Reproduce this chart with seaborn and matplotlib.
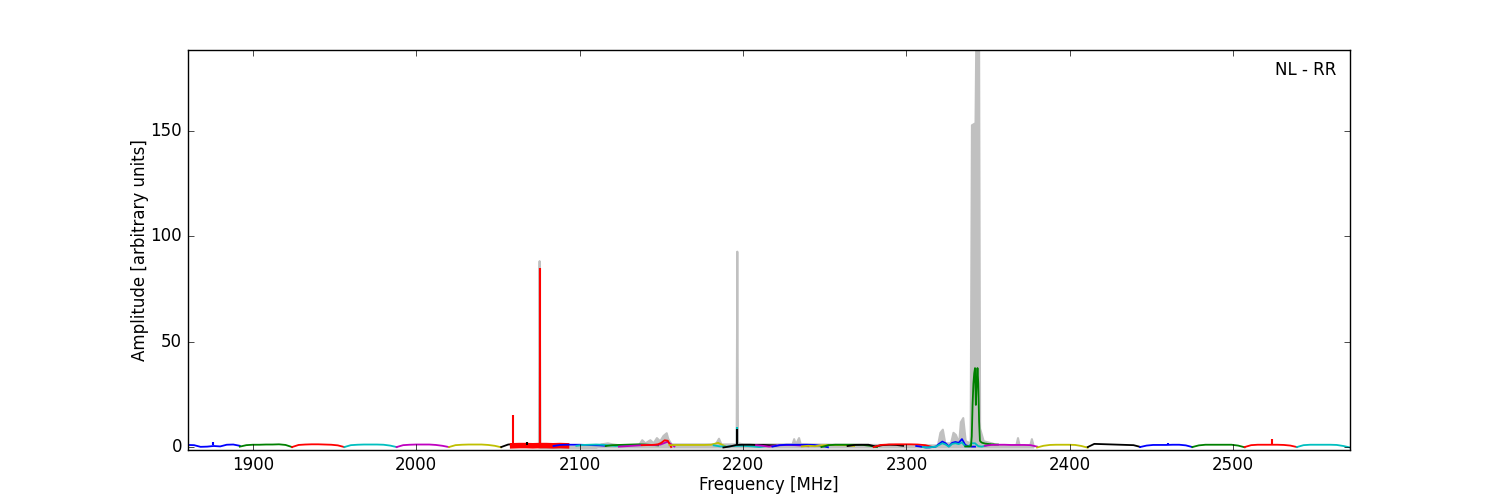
import numpy as np
import pandas as pd
import seaborn as sns
import matplotlib.pyplot as plt

plt.style.use('classic')
plt.rcParams['figure.facecolor'] = 'white'

# sub-band spectra: edges [MHz], colour, amplitudes sampled evenly across the band
band_lo = [1860, 1892, 1924, 1956, 1988, 2020, 2052, 2059, 2084, 2098, 2116, 2124,
           2138, 2155, 2182, 2188, 2208, 2218, 2236, 2248, 2264, 2280, 2306, 2310,
           2336, 2348, 2380, 2411, 2443, 2475, 2507, 2539]
band_hi = [1892, 1924, 1956, 1988, 2020, 2052, 2086, 2092, 2116, 2130, 2148, 2158,
           2156, 2189, 2214, 2220, 2240, 2252, 2268, 2282, 2298, 2316, 2342, 2350,
           2356, 2380, 2411, 2443, 2475, 2507, 2539, 2571.5]
band_color = ['b', 'g', 'r', 'c', 'm', 'y', 'k', 'r', 'b', 'c', 'g', 'm',
              'r', 'y', 'c', 'k', 'm', 'b', 'y', 'g', 'k', 'r', 'b', 'c',
              'g', 'm', 'y', 'k', 'b', 'g', 'r', 'c']
band_amp = [
    [1.0, 0.9, 0.1, 0.2, 0.5, 0.3, 1.1, 1.2, 0.6],
    [0.2, 0.9, 1.1, 1.1, 1.2, 1.2, 1.3, 1.0, 0.0],
    [0.0, 1.0, 1.2, 1.3, 1.3, 1.2, 1.1, 0.8, 0.0],
    [0.0, 0.9, 1.1, 1.2, 1.2, 1.2, 1.1, 0.7, 0.0],
    [0.0, 0.9, 1.1, 1.2, 1.2, 1.2, 1.0, 0.6, 0.0],
    [0.0, 0.9, 1.1, 1.2, 1.2, 1.2, 1.0, 0.6, -0.1],
    [0.0, 1.2, 1.4, 1.2, 1.2, 1.2, 1.2, 1.0, 1.0],
    [0.6, 0.7, 0.7, 0.6, 0.7, 0.7, 0.6, 0.7, 0.6],
    [0.5, 1.0, 1.1, 1.1, 1.1, 1.0, 0.9, 0.8, 0.6],
    [0.6, 1.0, 1.1, 1.2, 1.1, 0.8, 0.5, 0.7, 0.9],
    [0.5, 0.9, 1.0, 1.1, 1.2, 1.3, 1.2, 1.0, 0.8],
    [0.2, 0.4, 0.6, 0.8, 1.0, 0.9, 1.2, 2.5, 0.3],
    [0.9, 0.9, 1.0, 1.0, 1.1, 1.3, 2.0, 3.2, 3.0, 0.0],
    [0.9, 1.0, 1.0, 1.0, 1.0, 1.0, 1.1, 2.0, 0.4],
    [0.8, 0.3, 0.2, 0.5, 0.6, 0.5, 0.3, 0.0, 0.4],
    [-0.2, 0.3, 1.0, 1.1, 1.1, 1.0, 1.0, 0.9, 0.8],
    [0.9, 0.6, 0.2, 0.7, 0.9, 1.0, 0.9, 0.7, 0.4],
    [0.2, 0.9, 1.1, 1.1, 1.1, 1.1, 1.0, 0.6, -0.1],
    [0.3, 0.6, 0.4, 0.8, 1.0, 1.0, 1.0, 0.8, 0.5],
    [0.0, 0.9, 1.1, 1.1, 1.1, 1.1, 1.0, 0.6, 0.0],
    [0.5, 1.0, 1.1, 1.1, 0.3, 0.9, 1.1, 1.0, 0.6],
    [0.0, 1.0, 1.2, 1.3, 1.3, 1.3, 1.2, 0.9, 0.0],
    [0.5, 0.3, 0.0, -0.2, -0.2, 0.0, 0.2, 1.5, 2.6, 1.8, 0.3, 2.0, 2.4, 2.0, 3.8, 1.0, 0.4, 0.2, 0.2],
    [0.0, -0.2, -0.1, 0.0, 0.2, 1.0, 1.8, 1.2, 0.2, 1.5, 1.8, 1.4, 2.2, 0.3, 0.3, 1.8, 1.8, 0.4, 0.2, 0.5, 1.0],
    [0.3, 0.3, 0.3, 0.3, 0.3, 0.3, 0.4, 0.5, 5.0, 20.0, 30.0, 35.0, 37.5, 20.0, 30.0, 37.5, 30.0, 12.0, 3.0, 2.5,
     2.2, 2.0, 1.9, 1.8, 1.7, 1.6, 1.6, 1.5, 1.5, 1.4, 1.4, 1.4, 1.3, 1.3, 1.3, 1.3, 1.2, 1.2, 1.2, 1.2, 1.2],
    [0.6, 1.0, 1.1, 1.1, 1.0, 1.0, 1.0, 0.9, 0.2],
    [-0.2, 0.6, 1.0, 1.1, 1.1, 1.1, 1.0, 0.5, -0.3],
    [0.0, 1.5, 1.4, 1.3, 1.2, 1.1, 1.0, 0.9, 0.1],
    [0.0, 0.7, 1.0, 1.0, 1.0, 1.1, 1.1, 0.8, 0.0],
    [0.0, 0.8, 1.1, 1.1, 1.1, 1.1, 1.1, 0.7, -0.1],
    [0.0, 0.9, 1.1, 1.1, 1.1, 1.1, 1.0, 0.7, 0.0],
    [0.0, 0.9, 1.1, 1.1, 1.1, 1.1, 1.0, 0.5, -0.2],
]
band_width = [1.3] * len(band_lo)
band_width[7] = 4.0  # noisy red band renders as a thick block

# narrow RFI spikes on top of the sub-band lines
spike_freq = [1875.5, 2059.5, 2068.0, 2075.5, 2196.6, 2196.2, 2460.0, 2524.0]
spike_amp = [2.2, 15.2, 2.5, 85.0, 9.5, 8.5, 1.8, 4.0]
spike_color = ['b', 'r', 'k', 'r', 'c', 'k', 'b', 'r']

# grey envelope (maximum over all baselines)
gray_freq = [2074.8, 2075.2, 2075.7, 2110, 2113, 2117, 2120, 2125, 2136, 2138, 2140,
             2143, 2145, 2147, 2149, 2151, 2153, 2154, 2156, 2183, 2185, 2186.5,
             2195.8, 2196.2, 2196.6, 2200, 2230, 2231, 2232, 2234, 2235, 2240,
             2319, 2320.5, 2322, 2323.5, 2327, 2328.5, 2330, 2332, 2333, 2334.5,
             2336, 2339, 2339.8, 2342, 2342.4, 2344.2, 2344.8, 2347, 2352, 2356,
             2367, 2368, 2369, 2375.5, 2376.5, 2377.5]
gray_amp = [0, 88.5, 0, 0, 1.5, 2.0, 1.5, 1.0, 1.0, 3.5, 2.0,
            3.5, 2.0, 4.5, 3.0, 5.5, 6.8, 4.0, 1.5, 1.5, 4.2, 1.5,
            1.5, 93.0, 2.0, 1.5, 1.5, 4.0, 1.5, 4.5, 1.5, 1.5,
            1.0, 7.0, 8.5, 2.0, 2.0, 7.0, 6.0, 2.0, 12.0, 14.0,
            3.0, 2.0, 153.0, 154.0, 188.5, 188.5, 9.0, 3.0, 2.0, 1.0,
            1.0, 4.5, 1.0, 1.0, 4.0, 1.0]

fig, ax = plt.subplots(figsize=(15, 5), dpi=100)

ax.fill_between(gray_freq, 0, gray_amp, facecolor='silver', edgecolor='silver',
                lw=1.5, zorder=1)

for lo, hi, c, amp, w in zip(band_lo, band_hi, band_color, band_amp, band_width):
    df = pd.DataFrame({'freq': np.linspace(lo, hi, len(amp)), 'amp': amp})
    sns.lineplot(data=df, x='freq', y='amp', color=c, lw=w, ax=ax,
                 sort=False, estimator=None, zorder=2)

ax.vlines(spike_freq, 0.8, spike_amp, colors=spike_color, lw=1.5, zorder=3)

ax.set_xlim(1860, 2571.5)
ax.set_ylim(-1.4, 188.5)
ax.set_xticks([1900, 2000, 2100, 2200, 2300, 2400, 2500])
ax.set_yticks([0, 50, 100, 150])
ax.set_xlabel('Frequency [MHz]', labelpad=2)
ax.set_ylabel('Amplitude [arbitrary units]', labelpad=1)
ax.text(0.988, 0.95, 'NL - RR', transform=ax.transAxes, ha='right', va='center')

plt.savefig('out.png', dpi=100, facecolor='white')
